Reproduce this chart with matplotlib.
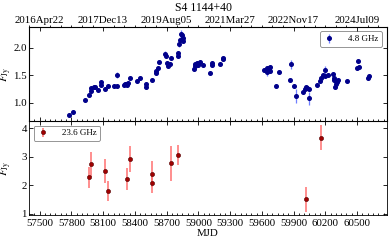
import matplotlib
matplotlib.use("Agg")
import matplotlib.pyplot as plt
from matplotlib.ticker import MultipleLocator, FixedLocator

plt.rcParams['font.family'] = ['Liberation Serif', 'DejaVu Serif']
plt.rcParams['mathtext.fontset'] = 'stix'

# 4.8 GHz light curve
mjd_48 = [57774, 57812, 57932, 57963, 57989, 57989, 58011, 58027, 58052, 58084, 58084,
          58115, 58143, 58200, 58232, 58232, 58294, 58306, 58315, 58325, 58336, 58351,
          58421, 58446, 58509, 58509, 58563, 58597, 58601, 58616, 58625, 58688, 58692,
          58704, 58717, 58736, 58745, 58808, 58808, 58814, 58830, 58838, 58846, 58852,
          58859, 58956, 58965, 58972, 58986, 59000, 59019, 59045, 59107, 59133, 59133,
          59208, 59234, 59234, 59624, 59646, 59652, 59660, 59667, 59674, 59681, 59738,
          59759, 59863, 59876, 59908, 59927, 59990, 60012, 60021, 60031, 60043, 60050,
          60122, 60154, 60163, 60177, 60194, 60201, 60223, 60276, 60278, 60286, 60295,
          60300, 60305, 60314, 60324, 60406, 60500, 60513, 60522, 60601, 60610]
flux_48 = [0.78, 0.84, 1.06, 1.15, 1.22, 1.27, 1.28, 1.28, 1.24, 1.38, 1.32,
           1.26, 1.31, 1.31, 1.51, 1.31, 1.32, 1.34, 1.35, 1.33, 1.36, 1.45,
           1.39, 1.45, 1.35, 1.28, 1.42, 1.54, 1.58, 1.64, 1.74, 1.89, 1.86,
           1.73, 1.67, 1.71, 1.82, 1.91, 1.85, 2.07, 2.15, 2.26, 2.24, 2.18,
           2.13, 1.62, 1.67, 1.70, 1.72, 1.68, 1.75, 1.69, 1.55, 1.73, 1.68,
           1.71, 1.82, 1.79, 1.59, 1.63, 1.56, 1.61, 1.64, 1.58, 1.66, 1.31,
           1.57, 1.41, 1.70, 1.31, 1.13, 1.19, 1.26, 1.28, 1.27, 1.25, 1.08,
           1.33, 1.39, 1.46, 1.51, 1.49, 1.59, 1.50, 1.52, 1.45, 1.42, 1.29,
           1.35, 1.39, 1.38, 1.41, 1.39, 1.64, 1.76, 1.66, 1.45, 1.48]
err_48 = [0.02, 0.02, 0.02, 0.02, 0.02, 0.02, 0.02, 0.02, 0.02, 0.02, 0.02,
          0.02, 0.02, 0.02, 0.06, 0.02, 0.02, 0.02, 0.02, 0.02, 0.02, 0.02,
          0.02, 0.02, 0.02, 0.02, 0.02, 0.03, 0.03, 0.03, 0.03, 0.06, 0.03,
          0.03, 0.03, 0.03, 0.03, 0.03, 0.03, 0.05, 0.05, 0.06, 0.04, 0.04,
          0.04, 0.03, 0.03, 0.03, 0.05, 0.03, 0.03, 0.03, 0.02, 0.03, 0.03,
          0.03, 0.03, 0.03, 0.03, 0.03, 0.07, 0.03, 0.03, 0.03, 0.03, 0.03,
          0.03, 0.03, 0.08, 0.03, 0.13, 0.03, 0.03, 0.03, 0.03, 0.03, 0.12,
          0.03, 0.03, 0.03, 0.03, 0.03, 0.08, 0.03, 0.03, 0.03, 0.03, 0.03,
          0.03, 0.03, 0.03, 0.03, 0.03, 0.03, 0.03, 0.03, 0.03, 0.03]

# 23.6 GHz light curve
mjd_236 = [57963, 57986, 58115, 58147, 58327, 58355, 58566, 58566, 58745, 58811, 60014, 60160]
flux_236 = [2.27, 2.73, 2.49, 1.81, 2.22, 2.92, 2.39, 2.06, 2.76, 3.05, 1.50, 3.67]
err_236 = [0.36, 0.44, 0.42, 0.35, 0.38, 0.46, 0.44, 0.35, 0.60, 0.36, 0.43, 0.43]

mjd_ticks = [57500, 57800, 58100, 58400, 58700, 59000, 59300, 59600, 59900, 60200, 60500]
date_ticks = [57500, 58100, 58700, 59300, 59900, 60500]
date_labels = ['2016Apr22', '2017Dec13', '2019Aug05', '2021Mar27', '2022Nov17', '2024Jul09']

fig = plt.figure(figsize=(3.89, 2.43), dpi=100)
ax1 = fig.add_axes([0.0746, 0.502, 0.9195, 0.387])
ax2 = fig.add_axes([0.0746, 0.115, 0.9195, 0.387], sharex=ax1)

ax1.errorbar(mjd_48, flux_48, yerr=err_48, fmt='o', ms=2.6, color='#00008b',
             ecolor='#6f7fff', elinewidth=0.9, capsize=0, label='4.8 GHz')
ax2.errorbar(mjd_236, flux_236, yerr=err_236, fmt='o', ms=3.0, color='#a00000',
             mec='#500000', mew=0.4, ecolor='#ff7070', elinewidth=1.1, capsize=0,
             label='23.6 GHz')

ax1.set_xlim(57400, 60780)
ax1.set_ylim(0.67, 2.38)
ax2.set_ylim(0.95, 4.25)

ax1.yaxis.set_major_locator(MultipleLocator(0.5))
ax2.yaxis.set_major_locator(MultipleLocator(1))
ax2.xaxis.set_major_locator(FixedLocator(mjd_ticks))
ax2.xaxis.set_minor_locator(MultipleLocator(50))

for ax in (ax1, ax2):
    ax.tick_params(axis='both', which='both', direction='in', labelsize=7.8,
                   right=True, width=0.6, pad=2.5)
    ax.tick_params(axis='y', pad=1.5)
    ax.tick_params(which='major', length=3)
    ax.tick_params(which='minor', length=1.5)
    for s in ax.spines.values():
        s.set_linewidth(0.6)
    ax.set_ylabel(r'$F_{\rm Jy}$', fontsize=8)
    ax.yaxis.set_label_coords(-0.041, 0.5)
ax1.tick_params(labelbottom=False, top=False)
ax2.tick_params(top=True)

top = ax1.twiny()
top.set_xlim(ax1.get_xlim())
top.set_xticks(date_ticks)
top.set_xticklabels(date_labels)
top.xaxis.set_minor_locator(MultipleLocator(100))
top.tick_params(direction='in', labelsize=7.8, width=0.6, pad=1.5)
top.tick_params(which='major', length=3)
top.tick_params(which='minor', length=1.5)

ax2.set_xlabel('MJD', fontsize=7.8, labelpad=1)
fig.text(0.522, 0.99, 'S4 1144+40', ha='center', va='top', fontsize=8.5)

leg1 = ax1.legend(loc='upper right', fontsize=6.5, handletextpad=1.5, borderpad=0.4,
                  handlelength=1.2, fancybox=True, edgecolor='0.4')
leg1.get_frame().set_linewidth(0.6)
leg2 = ax2.legend(loc='upper left', fontsize=6.5, handletextpad=1.5, borderpad=0.4,
                  handlelength=1.2, fancybox=True, edgecolor='0.4')
leg2.get_frame().set_linewidth(0.6)

fig.savefig('out.png', dpi=100)
